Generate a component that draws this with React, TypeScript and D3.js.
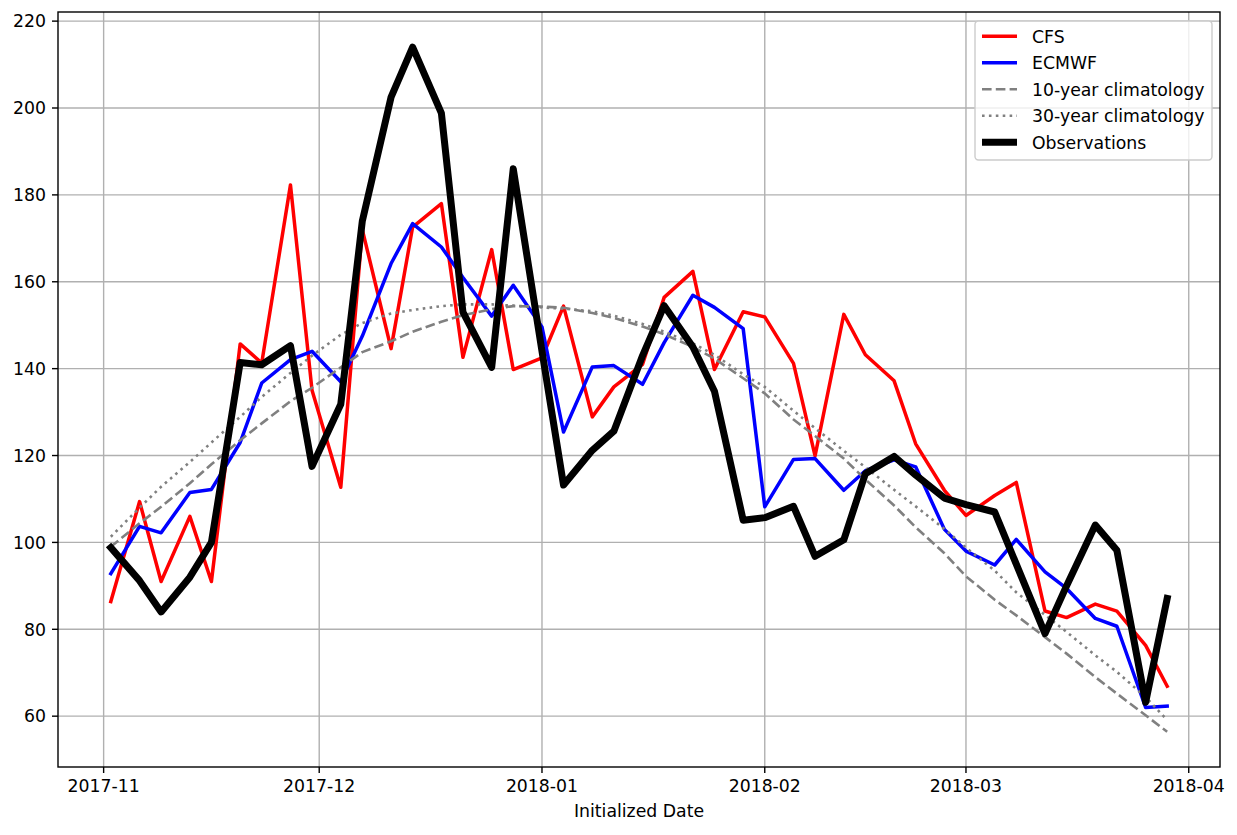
import React from "react";
import * as d3 from "d3";

const dates: string[] = [
  "2017-11-02","2017-11-06","2017-11-09","2017-11-13","2017-11-16","2017-11-20","2017-11-23","2017-11-27","2017-11-30",
  "2017-12-04","2017-12-07","2017-12-11","2017-12-14","2017-12-18","2017-12-21","2017-12-25","2017-12-28",
  "2018-01-01","2018-01-04","2018-01-08","2018-01-11","2018-01-15","2018-01-18","2018-01-22","2018-01-25","2018-01-29",
  "2018-02-01","2018-02-05","2018-02-08","2018-02-12","2018-02-15","2018-02-19","2018-02-22","2018-02-26",
  "2018-03-01","2018-03-05","2018-03-08","2018-03-12","2018-03-15","2018-03-19","2018-03-22","2018-03-26","2018-03-29",
];

const cfs: number[] = [
  86.4, 109.4, 91, 106, 91, 145.7, 141.3, 182.3, 135,
  112.7, 172, 144.6, 172.6, 178, 142.6, 167.4, 139.8,
  142.5, 154.4, 128.9, 135.8, 141, 156.4, 162.4, 139.8, 153.1,
  151.9, 141.2, 119.9, 152.5, 143.2, 137.2, 122.7, 112,
  106.2, 110.8, 113.8, 84.2, 82.7, 85.8, 84.2, 76.3, 66.9,
];

const ecmwf: number[] = [
  92.8, 103.7, 102.2, 111.5, 112.2, 123, 136.7, 142.1, 144,
  137, 147.5, 164.2, 173.4, 168, 161, 152.1, 159.2,
  149.6, 125.4, 140.4, 140.7, 136.4, 146, 156.9, 154.1, 149.2,
  108.2, 119.1, 119.3, 112, 116.5, 119, 117.4, 103,
  98, 94.8, 100.7, 93.2, 89.4, 82.5, 80.7, 62, 62.3,
];

const clim10: number[] = [
  99, 104.4, 108.2, 113.6, 118, 123.5, 127.4, 132.5, 135.6,
  140.3, 143.8, 146.3, 148.5, 150.8, 152.3, 153.7, 154.4,
  154.3, 154, 152.8, 151.7, 149.7, 147.9, 145, 142.3, 137.8,
  134.3, 128.3, 124.5, 119.3, 114.5, 108.5, 103.5, 97.5,
  92.2, 86.8, 83.2, 78.2, 74.4, 69, 65.2, 60.2, 56.4,
];

const clim30: number[] = [
  101.3, 108, 112.8, 118.5, 123, 128.9, 133.5, 139, 143,
  147.8, 150.5, 152.7, 153.5, 154.4, 154.8, 154.8, 154.5,
  154.1, 153.8, 153.2, 152.2, 150.3, 148.5, 145.8, 143.2, 138.7,
  135.8, 130.3, 126.3, 121.1, 117.3, 112.1, 108.3, 103.1,
  98.8, 93.5, 88.5, 83.3, 79.4, 74, 70.2, 64.4, 59.1,
];

const observations: number[] = [
  98.8, 91.2, 84, 92, 100, 141.4, 140.9, 145.3, 117.5,
  131.8, 174, 202.5, 214, 198.8, 153, 140.3, 186,
  144, 113.2, 121.2, 125.6, 143, 154.5, 145, 134.8, 105.1,
  105.7, 108.3, 96.8, 100.6, 115.8, 119.8, 115.5, 110.2,
  108.7, 107, 95, 79, 90, 104, 98.2, 63.2, 87.1,
];

const yTicks: number[] = [60, 80, 100, 120, 140, 160, 180, 200, 220];
const xTickStrings: string[] = ["2017-11-01", "2017-12-01", "2018-01-01", "2018-02-01", "2018-03-01", "2018-04-01"];

const W = 1237;
const H = 835;
const M = { left: 58, right: 1220, top: 12, bottom: 767 };
const FONT = "'DejaVu Sans', sans-serif";
const FS = 17.3;

const parse = d3.utcParse("%Y-%m-%d");
const fmt = d3.utcFormat("%Y-%m");

export default function App() {
  const xs = dates.map((d) => parse(d) as Date);
  const [d0, d1] = d3.extent(xs) as [Date, Date];
  const span = d1.getTime() - d0.getTime();
  const x = d3
    .scaleUtc()
    .domain([new Date(d0.getTime() - 0.05 * span), new Date(d1.getTime() + 0.05 * span)])
    .range([M.left, M.right]);
  const y = d3.scaleLinear().domain([48.3, 222.1]).range([M.bottom, M.top]);
  const xTicks = xTickStrings.map((s) => parse(s) as Date);

  const line = (vals: number[]) =>
    d3
      .line<number>()
      .x((_, i) => x(xs[i]))
      .y((v) => y(v))(vals) as string;

  const series = [
    { name: "CFS", vals: cfs, color: "#ff0000", width: 3.5, dash: undefined as string | undefined },
    { name: "ECMWF", vals: ecmwf, color: "#0000ff", width: 3.5, dash: undefined },
    { name: "10-year climatology", vals: clim10, color: "#808080", width: 2.6, dash: "9.6 4.2" },
    { name: "30-year climatology", vals: clim30, color: "#808080", width: 2.6, dash: "2.6 4.3" },
    { name: "Observations", vals: observations, color: "#000000", width: 7, dash: undefined },
  ];

  const legendX = 975;
  const legendY = 21;
  const rowH = 26.5;

  return (
    <svg
      width={W}
      height={H}
      style={{ position: "absolute", left: 0, top: 0, background: "#fff" }}
      fontFamily={FONT}
    >
      <rect x={0} y={0} width={W} height={H} fill="#fff" />
      <defs>
        <clipPath id="plotclip">
          <rect x={M.left} y={M.top} width={M.right - M.left} height={M.bottom - M.top} />
        </clipPath>
      </defs>
      {/* grid */}
      <g stroke="#b0b0b0" strokeWidth={1.4}>
        {yTicks.map((t) => (
          <line key={"gy" + t} x1={M.left} x2={M.right} y1={y(t)} y2={y(t)} />
        ))}
        {xTicks.map((t) => (
          <line key={"gx" + t.getTime()} x1={x(t)} x2={x(t)} y1={M.top} y2={M.bottom} />
        ))}
      </g>
      {/* series */}
      <g clipPath="url(#plotclip)" fill="none">
        {series.map((s) => (
          <path
            key={s.name}
            d={line(s.vals)}
            stroke={s.color}
            strokeWidth={s.width}
            strokeDasharray={s.dash}
            strokeLinejoin="round"
            strokeLinecap={s.dash ? "butt" : "square"}
          />
        ))}
      </g>
      {/* spines */}
      <rect
        x={M.left}
        y={M.top}
        width={M.right - M.left}
        height={M.bottom - M.top}
        fill="none"
        stroke="#000"
        strokeWidth={1.4}
      />
      {/* y axis */}
      <g>
        {yTicks.map((t) => (
          <g key={"yt" + t}>
            <line x1={M.left - 6} x2={M.left} y1={y(t)} y2={y(t)} stroke="#000" strokeWidth={1.4} />
            <text x={M.left - 12} y={y(t) + 6.3} textAnchor="end" fontSize={FS} fill="#000">
              {t}
            </text>
          </g>
        ))}
      </g>
      {/* x axis */}
      <g>
        {xTicks.map((t) => (
          <g key={"xt" + t.getTime()}>
            <line x1={x(t)} x2={x(t)} y1={M.bottom} y2={M.bottom + 6} stroke="#000" strokeWidth={1.4} />
            <text x={x(t)} y={792} textAnchor="middle" fontSize={FS} fill="#000">
              {fmt(t)}
            </text>
          </g>
        ))}
        <text x={(M.left + M.right) / 2} y={817} textAnchor="middle" fontSize={FS} fill="#000">
          Initialized Date
        </text>
      </g>
      {/* legend */}
      <g>
        <rect
          x={legendX}
          y={legendY}
          width={237}
          height={139}
          rx={3.5}
          fill="#fff"
          fillOpacity={0.8}
          stroke="#cccccc"
          strokeWidth={1.4}
        />
        {series.map((s, i) => {
          const cy = 36.3 + i * rowH;
          return (
            <g key={"lg" + s.name}>
              <line
                x1={982}
                x2={1017}
                y1={cy}
                y2={cy}
                stroke={s.color}
                strokeWidth={s.width}
                strokeDasharray={s.dash}
                strokeLinecap="butt"
              />
              <text x={1032} y={cy + 6.3} fontSize={FS} fill="#000">
                {s.name}
              </text>
            </g>
          );
        })}
      </g>
    </svg>
  );
}
